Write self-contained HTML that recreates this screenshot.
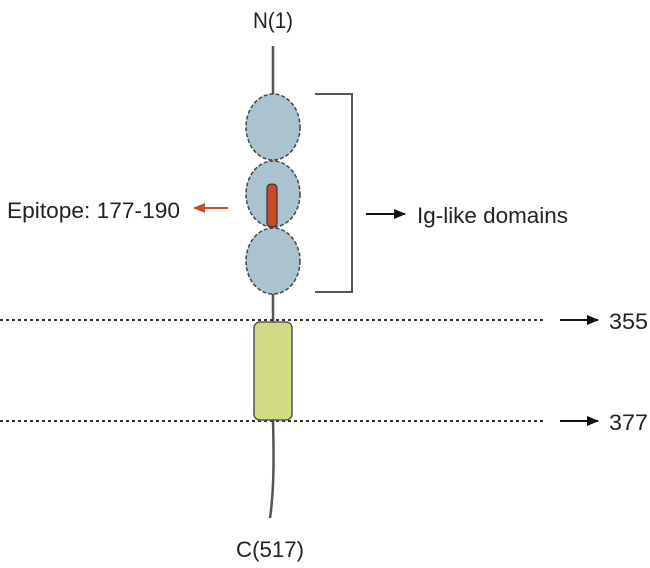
<!DOCTYPE html>
<html><head><meta charset="utf-8"><style>html,body{margin:0;padding:0;background:#fff}svg{display:block}</style></head>
<body>
<svg width="650" height="568" viewBox="0 0 650 568" xmlns="http://www.w3.org/2000/svg" font-family="'Liberation Sans',sans-serif" font-size="22" fill="#222">
<defs>
<marker id="ab" markerWidth="12" markerHeight="12" refX="11" refY="6" orient="auto" markerUnits="userSpaceOnUse"><path d="M0,1 L12,6 L0,11 Z" fill="#111"/></marker>
<marker id="ar" markerWidth="12" markerHeight="12" refX="11" refY="6" orient="auto" markerUnits="userSpaceOnUse"><path d="M0,1 L12,6 L0,11 Z" fill="#c0502a"/></marker>
</defs>
<text x="253" y="28" textLength="40" lengthAdjust="spacingAndGlyphs">N(1)</text>
<line x1="273" y1="46" x2="273" y2="94" stroke="#555" stroke-width="2.5"/>
<line x1="273" y1="292" x2="273" y2="322" stroke="#555" stroke-width="2.5"/>
<path d="M273 420 C274 460 274 490 270 518" stroke="#555" stroke-width="2.5" fill="none"/>
<g fill="#a9c3d0" stroke="#444" stroke-width="1.5" stroke-dasharray="4,2">
<ellipse cx="273" cy="127" rx="27" ry="33"/>
<ellipse cx="273" cy="194" rx="27" ry="33"/>
<ellipse cx="273" cy="261" rx="27" ry="33"/>
</g>
<rect x="267" y="184" width="10" height="43" rx="4" fill="#c9492a" stroke="#222" stroke-width="1"/>
<path d="M315 94 H352 V292 H315" stroke="#555" stroke-width="2" fill="none"/>
<line x1="0" y1="320" x2="543" y2="320" stroke="#333" stroke-width="2" stroke-dasharray="3,3"/>
<line x1="0" y1="421" x2="543" y2="421" stroke="#333" stroke-width="2" stroke-dasharray="3,3"/>
<rect x="254" y="322" width="38" height="98" rx="6" fill="#d3da86" stroke="#555" stroke-width="1.5"/>
<line x1="228" y1="208" x2="194" y2="208" stroke="#c0502a" stroke-width="2" marker-end="url(#ar)"/>
<text x="7" y="218" textLength="173" lengthAdjust="spacingAndGlyphs">Epitope: 177-190</text>
<line x1="366" y1="214" x2="405" y2="214" stroke="#111" stroke-width="2" marker-end="url(#ab)"/>
<text x="417" y="223" textLength="151" lengthAdjust="spacingAndGlyphs">Ig-like domains</text>
<line x1="560" y1="320" x2="598" y2="320" stroke="#111" stroke-width="2" marker-end="url(#ab)"/>
<text x="609" y="329" textLength="39" lengthAdjust="spacingAndGlyphs">355</text>
<line x1="560" y1="421" x2="598" y2="421" stroke="#111" stroke-width="2" marker-end="url(#ab)"/>
<text x="609" y="430" textLength="39" lengthAdjust="spacingAndGlyphs">377</text>
<text x="236" y="557" textLength="68" lengthAdjust="spacingAndGlyphs">C(517)</text>
</svg>
</body></html>
